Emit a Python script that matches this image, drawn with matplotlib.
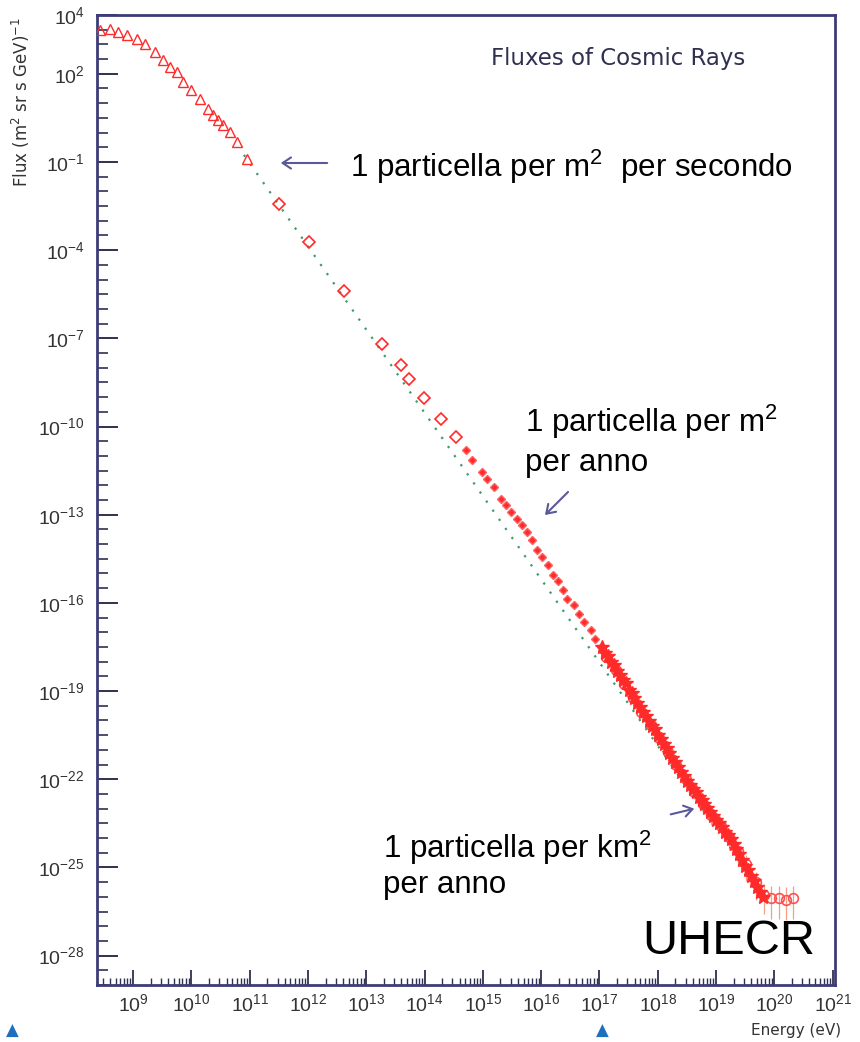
import numpy as np
import matplotlib
matplotlib.use("Agg")
import matplotlib.pyplot as plt
from matplotlib.ticker import FixedLocator, NullFormatter, FixedFormatter

plt.rcParams['font.family'] = ['Liberation Sans', 'DejaVu Sans']
plt.rcParams['mathtext.default'] = 'regular'

# ---------------- data (log10 E [eV], log10 flux) ----------------
tri_logE = [8.44, 8.61, 8.74, 8.90, 9.07, 9.20, 9.38, 9.51, 9.63, 9.75, 9.85, 10.00,
            10.15, 10.28, 10.37, 10.45, 10.54, 10.66, 10.78, 10.95]
tri_logF = [3.50, 3.53, 3.43, 3.33, 3.19, 3.02, 2.75, 2.48, 2.24, 2.07, 1.73, 1.46,
            1.15, 0.81, 0.61, 0.44, 0.27, 0.03, -0.31, -0.89]

dia_logE = [11.51, 12.01, 12.61, 13.27, 13.60, 13.74, 13.99, 14.28, 14.54]
dia_logF = [-2.42, -3.71, -5.38, -7.18, -7.90, -8.37, -9.02, -9.73, -10.35]

star_logE = [14.71, 14.81, 14.98, 15.07, 15.19, 15.31, 15.39, 15.48, 15.58, 15.67,
             15.75, 15.84, 15.92, 16.01, 16.11, 16.20, 16.28, 16.38, 16.45, 16.56,
             16.64, 16.74, 16.85, 16.93, 17.03]
star_logF = [-10.79, -11.13, -11.54, -11.78, -12.05, -12.46, -12.66, -12.90, -13.14, -13.34,
             -13.58, -13.85, -14.19, -14.43, -14.70, -15.04, -15.24, -15.55, -15.86, -16.06,
             -16.37, -16.64, -16.91, -17.22, -17.49]

uhe_logE = [17.05, 17.10, 17.15, 17.20, 17.25, 17.30, 17.35, 17.40, 17.45, 17.50,
            17.55, 17.60, 17.65, 17.70, 17.75, 17.80, 17.85, 17.90, 17.95, 18.00,
            18.05, 18.10, 18.15, 18.20, 18.25, 18.30, 18.35, 18.40, 18.45, 18.50,
            18.55, 18.60, 18.65, 18.70, 18.75, 18.80, 18.85, 18.90, 18.95, 19.00,
            19.05, 19.10, 19.15, 19.20, 19.25, 19.30, 19.35, 19.40, 19.45, 19.50,
            19.55, 19.60, 19.65, 19.70, 19.75, 19.80]
uhe_logF = [-17.50, -17.70, -17.80, -18.02, -18.12, -18.32, -18.45, -18.62, -18.74, -18.95,
            -19.08, -19.22, -19.40, -19.53, -19.72, -19.85, -20.02, -20.18, -20.30, -20.50,
            -20.62, -20.80, -20.95, -21.10, -21.28, -21.42, -21.58, -21.75, -21.90, -22.05,
            -22.18, -22.32, -22.45, -22.60, -22.72, -22.85, -22.98, -23.12, -23.25, -23.38,
            -23.50, -23.62, -23.78, -23.88, -24.02, -24.20, -24.38, -24.55, -24.75, -24.95,
            -25.10, -25.30, -25.45, -25.65, -25.85, -26.00]

uhe2_logE = [17.12, 17.28, 17.42, 17.58, 17.72, 17.88, 18.02, 18.18, 18.32, 18.48,
             18.62, 18.78, 18.92, 19.08, 19.22, 19.38, 19.52, 19.68, 19.82, 19.95,
             20.08, 20.20, 20.32]
uhe2_logF = [-17.85, -18.30, -18.75, -19.25, -19.70, -20.15, -20.60, -21.08, -21.50, -21.98,
             -22.42, -22.85, -23.20, -23.60, -23.95, -24.45, -24.90, -25.50, -25.95, -26.05,
             -26.05, -26.10, -26.05]
uhe2_err = [0.10, 0.10, 0.10, 0.12, 0.12, 0.15, 0.15, 0.18, 0.20, 0.22,
            0.25, 0.30, 0.35, 0.40, 0.45, 0.50, 0.55, 0.60, 0.65, 0.70,
            0.70, 0.70, 0.70]

fit_logE = [10.90, 19.00]
fit_logF = [-0.76, -23.69]

x_ticks_exp = list(range(9, 22))
y_ticks_exp = [2, -1, -4, -7, -10, -13, -16, -19, -22, -25, -28]

# ---------------- figure ----------------
W, H = 860, 1042
fig = plt.figure(figsize=(W / 100, H / 100), dpi=100)
def fpx(x, y):
    return (x / W, 1 - y / H)

L, R, T, B = 97, 835, 15, 985
ax = fig.add_axes([L / W, 1 - B / H, (R - L) / W, (B - T) / H])
ax.set_xscale('log')
ax.set_yscale('log')
ax.set_xlim(10 ** 8.38, 10 ** 21.04)
ax.set_ylim(1e-29, 1e4)

red = '#ff2a2a'
p = lambda a: np.power(10.0, np.array(a))

ax.plot(p(fit_logE), p(fit_logF), ls=(0, (1, 4)), color='#3f9a6a', lw=1.6, zorder=1)
ax.plot(p(tri_logE), p(tri_logF), ls='none', marker='^', ms=7, mfc='none', mec=red, mew=1.0, zorder=3)
ax.plot(p(dia_logE), p(dia_logF), ls='none', marker='D', ms=6, mfc='none', mec=red, mew=1.2, zorder=3)
ax.plot(p(star_logE), p(star_logF), ls='none', marker='D', ms=4.5, mfc=red, mec='#ff6060', mew=1.0, zorder=3)
e2 = np.array(uhe2_err)
ax.errorbar(p(uhe2_logE), p(uhe2_logF),
            yerr=[p(uhe2_logF) - p(np.array(uhe2_logF) - e2), p(np.array(uhe2_logF) + e2 * 0.6) - p(uhe2_logF)],
            ls='none', marker='o', ms=7, mfc='none', mec='#ff5050', mew=1.2,
            ecolor='#f4a080', elinewidth=0.9, zorder=2)
ax.plot(p(uhe_logE), p(uhe_logF), ls='none', marker='*', ms=10, mfc=red, mec=red, zorder=4)

# spines
for s in ax.spines.values():
    s.set_color('#3c3c78')
    s.set_linewidth(2)

# x ticks
ax.xaxis.set_major_locator(FixedLocator([10.0 ** k for k in x_ticks_exp]))
ax.xaxis.set_major_formatter(FixedFormatter(['$10^{%d}$' % k for k in x_ticks_exp]))
minors = [m * 10.0 ** k for k in range(8, 22) for m in range(2, 10)]
ax.xaxis.set_minor_locator(FixedLocator(minors))
ax.xaxis.set_minor_formatter(NullFormatter())
ax.tick_params(axis='x', which='major', direction='in', length=11, width=1.3, color='#303050',
               labelsize=14, labelcolor='#333333', pad=6, top=False)
ax.tick_params(axis='x', which='minor', direction='in', length=5, width=1.0, color='#303050', top=False)

# y ticks
ylab_exp = [4] + y_ticks_exp
ax.yaxis.set_major_locator(FixedLocator([10.0 ** k for k in ylab_exp]))
ax.yaxis.set_major_formatter(FixedFormatter(['$10^{%d}$' % k for k in ylab_exp]))
ax.yaxis.set_minor_locator(FixedLocator([10.0 ** k for k in range(-29, 5) if k not in ylab_exp]
                                        + [10.0 ** (k + 0.5) for k in range(-29, 4)]))
ax.yaxis.set_minor_formatter(NullFormatter())
ax.tick_params(axis='y', which='major', direction='in', length=15, width=1.4, color='#303050',
               labelsize=14, labelcolor='#333333', pad=9, right=False)
ax.tick_params(axis='y', which='minor', direction='in', length=8, width=1.2, color='#303050', right=False)

# axis labels
fig.text(*fpx(21, 102), 'Flux (m$^2$ sr s GeV)$^{-1}$', rotation=90, ha='center', va='center',
         fontsize=12, color='#333333', family=['DejaVu Sans'])
fig.text(*fpx(796, 1030), 'Energy (eV)', ha='center', va='center', fontsize=11,
         color='#333333', family=['DejaVu Sans'])

# title inside plot
fig.text(*fpx(618, 58), 'Fluxes of Cosmic Rays', ha='center', va='center', fontsize=16.5,
         color='#303050', family=['DejaVu Sans'])

# annotations
fs = 22.5
fig.text(*fpx(350, 167), '1 particella per m$^2$  per secondo', ha='left', va='center', fontsize=fs)
fig.text(*fpx(525, 422), '1 particella per m$^2$', ha='left', va='center', fontsize=fs)
fig.text(*fpx(525, 463), 'per anno', ha='left', va='center', fontsize=fs)
fig.text(*fpx(383, 848), '1 particella per km$^2$', ha='left', va='center', fontsize=fs)
fig.text(*fpx(383, 885), 'per anno', ha='left', va='center', fontsize=fs)
fig.text(*fpx(642, 942), 'UHECR', ha='left', va='center', fontsize=35)

acol = '#5a5a9a'
def arrow(x0, y0, x1, y1):
    fig.add_artist(matplotlib.patches.FancyArrowPatch(fpx(x0, y0), fpx(x1, y1),
                   transform=fig.transFigure, arrowstyle='->,head_length=6,head_width=4',
                   color=acol, lw=1.5))
arrow(330, 163, 278, 163)
arrow(570, 490, 543, 517)
arrow(668, 815, 697, 808)

# small blue triangles below the plot
for xx in (12, 602):
    fig.text(*fpx(xx, 1031), '\u25B2', ha='center', va='center', fontsize=12,
             color='#1f6fc0', family=['DejaVu Sans'])

fig.savefig('out.png', dpi=100)
